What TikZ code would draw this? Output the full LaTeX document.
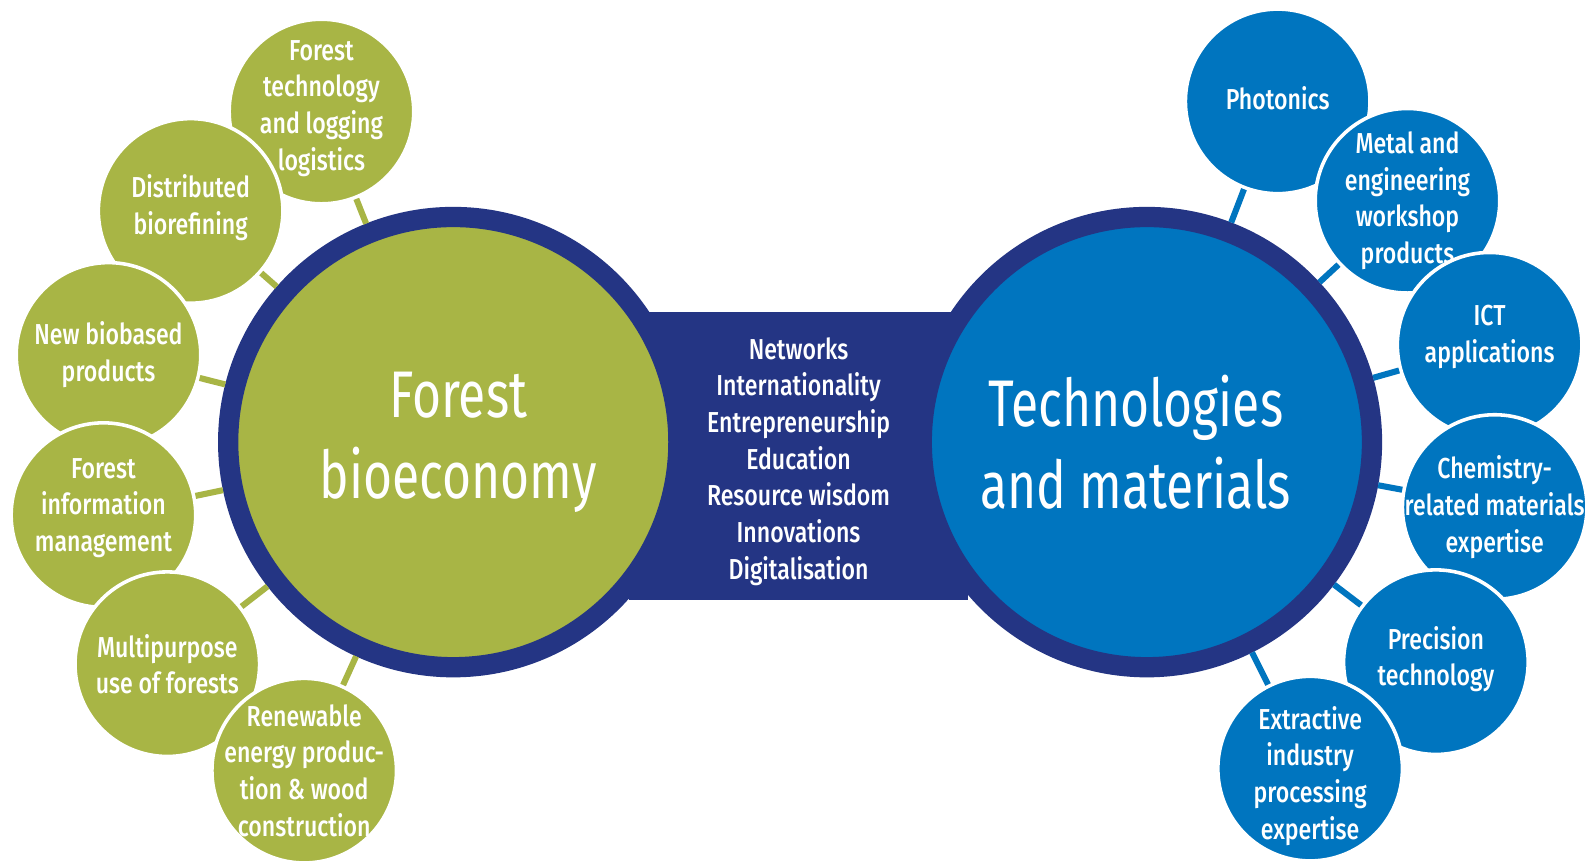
\documentclass[tikz,border=0pt]{standalone}
\usepackage{fontspec}
\newfontfamily\condfont[FakeStretch=0.8, BoldFont={Fira Sans Medium}]{Fira Sans}
\newfontfamily\bigfont[FakeStretch=0.755]{Fira Sans}
\usetikzlibrary{positioning}

\definecolor{fbgreen}{RGB}{168,181,69}
\definecolor{tmblue}{RGB}{0,117,191}
\definecolor{ringnavy}{RGB}{36,53,132}

\begin{document}
\begin{tikzpicture}[
    big/.style={circle, draw=ringnavy, line width=0.2cm, minimum size=4.44cm, inner sep=0pt},
    bigtext/.style={text=white, align=center, font=\bigfont\fontsize{18.5}{22.8}\selectfont},
    small/.style={circle, draw=white, line width=1pt, minimum size=1.82cm, inner sep=0pt},
    smalltext/.style={text=white, align=center, font=\condfont\bfseries\fontsize{8.1}{10.3}\selectfont},
    link/.style={line width=0.06cm}]
    \useasboundingbox[fill=white] (0,0) rectangle (15.68,-8.5);

    % middle band
    \node (mid) [fill=ringnavy, minimum width=3.35cm, minimum height=2.84cm,
        label={[smalltext, yshift=-0.05cm]center:Networks\\Internationality\\Entrepreneurship\\Education\\Resource wisdom\\Innovations\\Digitalisation}] at (7.875,-4.5) {};

    \node (fb) [big, fill=fbgreen, label={[bigtext, xshift=0.05cm]center:Forest\\bioeconomy}] at (4.47,-4.36) {};
    \node (tm) [big, fill=tmblue, label={[bigtext, xshift=-0.11cm]center:Technologies\\and materials}] at (11.31,-4.36) {};

    % forest side
    \node (g1) [small, fill=fbgreen, label={[smalltext, yshift=0.03cm]center:Forest\\technology\\and logging\\logistics}] at (3.17,-1.10) {};
    \node (g2) [small, fill=fbgreen, label={[smalltext, yshift=0.03cm]center:Distributed\\biorefining}] at (1.88,-2.08) {};
    \node (g3) [small, fill=fbgreen, label={[smalltext]center:New biobased\\products}] at (1.07,-3.50) {};
    \node (g4) [small, fill=fbgreen, label={[smalltext, yshift=0.07cm]center:Forest\\information\\management}] at (1.02,-5.08) {};
    \node (g5) [small, fill=fbgreen, label={[smalltext]center:Multipurpose\\use of forests}] at (1.65,-6.55) {};
    \node (g6) [small, fill=fbgreen, label={[smalltext]center:Renewable\\energy produc-\\tion \& wood\\construction}] at (3.00,-7.60) {};

    % technology side
    \node (b1) [small, fill=tmblue, label={[smalltext, yshift=0.03cm]center:Photonics}] at (12.60,-1.00) {};
    \node (b2) [small, fill=tmblue, label={[smalltext]center:Metal and\\engineering\\workshop\\products}] at (13.88,-1.98) {};
    \node (b3) [small, fill=tmblue, label={[smalltext, yshift=0.08cm]center:ICT\\applications}] at (14.69,-3.40) {};
    \node (b4) [small, fill=tmblue, label={[smalltext]center:Chemistry-\\related materials\\expertise}] at (14.74,-5.00) {};
    \node (b5) [small, fill=tmblue, label={[smalltext, yshift=0.03cm]center:Precision\\technology}] at (14.16,-6.53) {};
    \node (b6) [small, fill=tmblue, label={[smalltext, yshift=-0.07cm]center:Extractive\\industry\\processing\\expertise}] at (12.92,-7.58) {};

    \draw[link, fbgreen] (fb) -- (g1);
    \draw[link, fbgreen] (fb) -- (g2);
    \draw[link, fbgreen] (fb) -- (g3);
    \draw[link, fbgreen] (fb) -- (g4);
    \draw[link, fbgreen] (fb) -- (g5);
    \draw[link, fbgreen] (fb) -- (g6);

    \draw[link, tmblue] (tm) -- (b1);
    \draw[link, tmblue] (tm) -- (b2);
    \draw[link, tmblue] (tm) -- (b3);
    \draw[link, tmblue] (tm) -- (b4);
    \draw[link, tmblue] (tm) -- (b5);
    \draw[link, tmblue] (tm) -- (b6);
\end{tikzpicture}
\end{document}
